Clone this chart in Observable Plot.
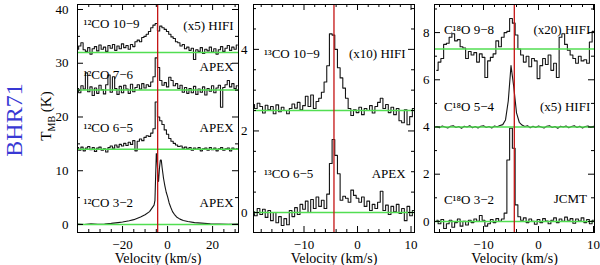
<!DOCTYPE html>
<html><head><meta charset="utf-8">
<script src="https://cdn.jsdelivr.net/npm/d3@7"></script>
<script src="https://cdn.jsdelivr.net/npm/@observablehq/plot@0.6"></script>
<style>
body{margin:0;background:#fff;}
#chart{position:relative;width:600px;height:265px;overflow:hidden;background:#fff;}
#chart svg{position:absolute;top:0;}
</style></head><body><div id="chart"></div>
<script>
// ---------- data ----------
const sourceName = "BHR71";
const xTitle = "Velocity (km/s)";
const vlsr = -4.4;

// Panel 1 : 12CO (channel grid start / width in km/s)
const p1V0 = -40, p1Dv = 1;
const co32V = [-40,-37,-34,-31,-28,-25,-22,-20,-17,-15,-12,-10,-8,-7,-6,-5.6,-5.3,-5.0,-4.7,-4.3,-4.0,-3.6,-3.2,-2.8,-2.4,-1.8,-1.2,-0.6,0,0.7,1.4,2.2,3,4,5.5,7,9,12,15,19,23,27,31.5];
const co32T = [0.1,0.0,0.15,0.05,0.1,0.2,0.35,0.45,0.7,0.9,1.4,1.8,2.4,3.0,3.6,4.5,9.0,13.2,12.5,9.0,8.0,10.5,12.0,12.0,10.5,8.6,7.2,6.0,5.2,4.0,3.2,2.4,1.9,1.4,1.0,0.75,0.55,0.35,0.25,0.15,0.1,0.05,0.08];
const co65 = [0.3,-0.2,0.4,-0.3,0.2,0.5,-0.1,0.3,-0.4,0.2,
  0.4,-0.2,0.1,-0.5,0.3,0.6,0.2,0.8,0.4,0.9,
  0.6,1.1,0.7,1.3,0.9,1.6,-0.3,1.5,1.9,1.6,
  2.2,2.5,2.4,3.0,3.8,8.8,6.0,5.3,4.6,3.6,
  2.8,2.0,1.5,1.1,0.8,0.5,0.6,0.2,0.4,0.1,
  0.3,-0.2,0.2,0.0,0.3,-0.3,0.1,0.2,-0.2,0.3,
  -0.1,0.2,-0.3,0.1,0.3,-0.2,0.1,0.2,-0.3,0.2,
  0.0,0.1];
const co76 = [0.3,-0.5,0.8,0.2,3.2,-0.3,0.6,-1.0,0.4,-0.6,
  0.9,0.1,-0.7,1.0,2.8,-0.4,2.5,0.3,-0.8,0.7,
  -0.5,0.9,0.2,-0.6,1.1,-0.3,0.5,1.0,0.2,1.2,
  0.4,1.0,0.7,1.5,2.5,6.0,4.2,1.8,0.9,1.4,
  0.6,2.4,1.8,0.8,1.2,0.3,0.9,-0.4,0.5,-0.6,
  0.3,-0.5,0.7,-0.8,0.2,-0.4,0.6,-0.9,0.3,-0.2,
  0.8,-0.5,0.4,0.9,-3.2,0.5,1.0,1.8,0.6,1.2,
  0.3,0.8];
const co109 = [0.6,1.2,1.8,0.5,0.2,0.9,-0.3,0.7,1.1,0.3,
  1.4,0.6,1.0,0.2,1.3,0.8,1.5,0.4,1.2,0.7,
  1.6,0.9,1.3,0.6,1.5,1.1,2.0,2.3,2.0,2.8,
  3.0,3.4,3.9,4.6,5.1,5.4,4.0,4.9,4.6,4.3,
  3.9,3.4,2.9,2.6,2.0,1.8,1.2,1.5,0.7,1.0,
  0.4,0.8,-1.3,0.5,0.2,0.9,-0.2,0.6,0.3,1.0,
  0.1,0.7,-0.3,0.5,1.1,0.2,0.8,1.3,0.4,1.0,
  0.6,1.4];
const p1Offsets = [0, 14, 25, 32];
const p1Lines = ["\u00B9\u00B2CO 3\u22122", "\u00B9\u00B2CO 6\u22125", "\u00B9\u00B2CO 7\u22126", "\u00B9\u00B2CO 10\u22129"];
const p1Notes = ["APEX", "APEX", "APEX", "(x5) HIFI"];
const p1XMajor = [-20, 0, 20];
const p1XMinor = [-35,-30,-25,-15,-10,-5,5,10,15,25,30];
const p1YMajor = [0, 10, 20, 30, 40];
const p1YMinor = [5, 15, 25, 35];

// Panel 2 : 13CO
const p2V0 = -19.5, p2Dv = 0.5;
const c13_109 = [0.15,0.05,0.18,0.10,-0.06,0.13,0.02,0.10,-0.08,0.14,
  -0.03,0.08,0.00,-0.08,0.05,0.16,0.06,0.20,0.02,0.12,
  0.35,0.10,0.38,0.05,0.22,0.30,0.45,0.70,1.10,1.88,
  1.85,1.50,1.05,0.80,0.55,0.30,0.05,-0.12,0.02,-0.05,
  0.08,-0.10,0.05,0.00,0.12,-0.06,0.10,0.20,0.30,0.05,
  0.15,-0.05,0.08,-0.10,0.05,-0.25,-0.30,0.02,-0.35,-0.15,
  0.05];
const c13_65 = [0.02,-0.08,0.10,-0.05,0.08,-0.12,0.05,-0.20,0.00,-0.25,
  -0.10,-0.32,-0.15,-0.30,0.05,-0.10,0.12,-0.05,0.20,0.08,
  0.28,0.00,0.32,0.10,0.38,0.15,0.30,0.10,0.45,1.20,
  1.79,1.40,0.95,0.30,0.40,0.35,0.25,0.55,0.42,0.35,
  0.25,0.38,0.15,0.28,0.05,0.20,0.10,0.25,0.52,0.05,
  0.18,-0.05,0.15,0.02,0.20,-0.02,0.10,-0.20,0.15,-0.08,
  0.05];
const p2Offsets = [0, 2.5];
const p2Lines = ["\u00B9\u00B3CO 6\u22125", "\u00B9\u00B3CO 10\u22129"];
const p2Notes = ["APEX", "(x10) HIFI"];
const p2XMajor = [-10, 0, 10];
const p2XMinor = [-18,-16,-14,-12,-8,-6,-4,-2,2,4,6,8];
const p2YMajor = [0, 2, 4];
const p2YMinor = [0.5,1,1.5,2.5,3,3.5,4.5,5];

// Panel 3 : C18O
const p3V0 = -18.5, p3Dv = 0.5;
const c18_98 = [-0.9,-0.55,-0.4,0.2,0.25,0.5,0.65,0.35,0.4,0.1,
  0.05,-0.4,-0.1,-0.25,-0.15,-0.55,-0.2,-0.35,-1.2,-0.5,
  -0.35,-0.2,0.35,0.1,0.5,0.7,0.75,1.3,1.1,0.6,
  0.0,-0.25,-0.55,-0.3,-0.75,-0.4,-0.5,-1.25,-0.7,-0.4,
  -0.65,-0.25,-0.9,-0.6,-1.2,0.5,0.65,0.2,-0.05,-0.25,
  -0.4,-0.6,-0.3,-0.5,-0.45,-0.6,0.3,0.75];
const c18_54 = [0.02,-0.03,0.04,0.0,-0.04,0.03,0.05,-0.02,0.02,-0.05,
  0.03,0.0,0.05,-0.03,0.02,-0.04,0.03,0.05,-0.02,0.02,
  -0.04,0.04,0.01,0.06,0.1,0.3,1.1,2.6,1.7,0.6,
  0.2,0.08,0.02,0.05,-0.03,0.03,-0.02,0.04,0.0,-0.04,
  0.03,0.05,-0.02,0.02,-0.05,0.03,0.0,0.04,-0.03,0.02,
  0.05,-0.02,0.03,-0.04,0.02,0.04,-0.02,0.03];
const c18_32 = [0.05,-0.1,0.08,-0.3,-0.1,0.05,-0.25,-0.05,0.1,-0.2,
  0.0,-0.15,0.05,-0.05,0.1,0.0,0.25,0.05,-0.2,-0.1,
  0.08,-0.05,0.12,0.0,0.1,0.35,2.6,3.95,3.1,0.7,
  0.2,0.05,0.15,-0.05,0.1,0.0,-0.12,0.08,-0.05,0.12,
  0.02,-0.1,0.05,0.15,-0.05,0.1,0.0,0.18,0.05,0.12,
  -0.08,0.1,0.02,0.15,-0.05,0.08,-0.1,0.05];
const p3Offsets = [0, 4.0, 7.3];
const p3Lines = ["C\u00B9\u2078O 3\u22122", "C\u00B9\u2078O 5\u22124", "C\u00B9\u2078O 9\u22128"];
const p3Notes = ["JCMT", "(x5) HIFI", "(x20) HIFI"];
const p3XMajor = [-10, 0, 10];
const p3XMinor = [-18,-16,-14,-12,-8,-6,-4,-2,2,4,6,8];
const p3YMajor = [0, 2, 4, 6, 8];
const p3YMinor = [1, 3, 5, 7, 9];

// ---------- drawing ----------
const H = 265, MT = 4, MB = 33;
const GREEN = "#52de52", RED = "#c41414", INK = "#151515";
const FONT = "'Liberation Serif', 'DejaVu Serif', serif";

const gridRows = (vals, v0, dv, off) => vals.map((t, i) => ({v: v0 + i * dv, T: t + off}));
const pairRows = (vs, ts, off) => vs.map((v, i) => ({v, T: ts[i] + off}));

function panel(cfg) {
  const fw = cfg.width - cfg.ml - cfg.mr, fh = H - MT - MB;
  const tk = {stroke: "#000", strokeWidth: 1};
  const marks = [
    ...cfg.spectra.map(s => Plot.line(s.rows, {x: "v", y: "T", curve: s.curve, stroke: INK, strokeWidth: 1.1, clip: true})),
    Plot.ruleY(cfg.offsets, {stroke: GREEN, strokeWidth: 1.5}),
    Plot.ruleX([vlsr], {stroke: RED, strokeWidth: 1.3}),
    Plot.tickX(cfg.xMinor, {x: d => d, insetTop: fh - 3, ...tk}),
    Plot.tickX(cfg.xMinor, {x: d => d, insetBottom: fh - 3, ...tk}),
    Plot.tickX(cfg.xMajor, {x: d => d, insetTop: fh - 6, ...tk}),
    Plot.tickX(cfg.xMajor, {x: d => d, insetBottom: fh - 6, ...tk}),
    Plot.tickY(cfg.yMinor, {y: d => d, insetRight: fw - 3, ...tk}),
    Plot.tickY(cfg.yMinor, {y: d => d, insetLeft: fw - 3, ...tk}),
    Plot.tickY(cfg.yMajor, {y: d => d, insetRight: fw - 6, ...tk}),
    Plot.tickY(cfg.yMajor, {y: d => d, insetLeft: fw - 6, ...tk}),
    Plot.frame({stroke: "#000", strokeWidth: 1}),
    Plot.axisX(cfg.xMajor, {tickSize: 0, tickPadding: 7, label: null, fontSize: 13}),
    Plot.axisY(cfg.yMajor, {tickSize: 0, tickPadding: cfg.ypad, label: null, fontSize: 13}),
    Plot.text([xTitle], {frameAnchor: "bottom", lineAnchor: "middle", dy: 26, fontSize: 14}),
    Plot.text(cfg.lines, {x: (d, i) => cfg.lx, y: (d, i) => cfg.ly[i], text: d => d, textAnchor: "start", fontSize: 13}),
    Plot.text(cfg.notes, {x: (d, i) => cfg.nx[i], y: (d, i) => cfg.ny[i], text: d => d, textAnchor: "end", fontSize: 13})
  ];
  const svg = Plot.plot({
    width: cfg.width, height: H,
    marginLeft: cfg.ml, marginRight: cfg.mr, marginTop: MT, marginBottom: MB,
    x: {domain: cfg.xDomain}, y: {domain: cfg.yDomain},
    style: {fontFamily: FONT, fontSize: "13px", background: "transparent", color: "#000", overflow: "visible"},
    marks
  });
  svg.style.left = cfg.left + "px";
  document.getElementById("chart").appendChild(svg);
  return svg;
}

const svg1 = panel({
  left: 0, width: 240, ml: 77, mr: 2, ypad: 9,
  xDomain: [-40, 31.5], yDomain: [-1.49, 40.93],
  spectra: [
    {rows: pairRows(co32V, co32T, p1Offsets[0]), curve: "linear"},
    {rows: gridRows(co65, p1V0, p1Dv, p1Offsets[1]), curve: "step"},
    {rows: gridRows(co76, p1V0, p1Dv, p1Offsets[2]), curve: "step"},
    {rows: gridRows(co109, p1V0, p1Dv, p1Offsets[3]), curve: "step"}
  ],
  offsets: p1Offsets,
  xMajor: p1XMajor, xMinor: p1XMinor, yMajor: p1YMajor, yMinor: p1YMinor,
  lines: p1Lines, lx: -37.3, ly: [4.1, 17.9, 27.9, 37.4],
  notes: p1Notes, nx: [29.3, 29.3, 29.3, 29.3], ny: [4.1, 17.9, 29.3, 37.0]
});

panel({
  left: 240, width: 176, ml: 13, mr: 2, ypad: 6,
  xDomain: [-19.44, 10.65], yDomain: [-0.49, 5.10],
  spectra: [
    {rows: gridRows(c13_65, p2V0, p2Dv, p2Offsets[0]), curve: "step"},
    {rows: gridRows(c13_109, p2V0, p2Dv, p2Offsets[1]), curve: "step"}
  ],
  offsets: p2Offsets,
  xMajor: p2XMajor, xMinor: p2XMinor, yMajor: p2YMajor, yMinor: p2YMinor,
  lines: p2Lines, lx: -17.5, ly: [0.95, 3.89],
  notes: p2Notes, nx: [9.0, 9.0], ny: [0.95, 3.89]
});

panel({
  left: 416, width: 184, ml: 18, mr: 6, ypad: 5,
  xDomain: [-18.91, 10.18], yDomain: [-0.47, 9.19],
  spectra: [
    {rows: gridRows(c18_32, p3V0, p3Dv, p3Offsets[0]), curve: "step"},
    {rows: gridRows(c18_54, p3V0, p3Dv, p3Offsets[1]), curve: "linear"},
    {rows: gridRows(c18_98, p3V0, p3Dv, p3Offsets[2]), curve: "step"}
  ],
  offsets: p3Offsets,
  xMajor: p3XMajor, xMinor: p3XMinor, yMajor: p3YMajor, yMinor: p3YMinor,
  lines: p3Lines, lx: -17.2, ly: [0.9, 4.84, 8.1],
  notes: p3Notes, nx: [8.8, 9.4, 9.4], ny: [0.95, 4.84, 8.1]
});

// source name and y-axis title on the first panel
const s1 = d3.select(svg1);
s1.append("text")
  .attr("transform", "translate(22,120) rotate(-90)")
  .attr("text-anchor", "middle")
  .attr("fill", "#3838d4")
  .style("font-size", "24px")
  .style("font-family", FONT)
  .text(sourceName);
const yt = s1.append("text")
  .attr("transform", "translate(51,116) rotate(-90)")
  .attr("text-anchor", "middle")
  .attr("fill", "#000")
  .style("font-size", "15px")
  .style("font-family", FONT);
yt.append("tspan").text("T");
yt.append("tspan").attr("dy", 4).style("font-size", "10px").text("MB");
yt.append("tspan").attr("dy", -4).text(" (K)");
</script>
</body></html>
